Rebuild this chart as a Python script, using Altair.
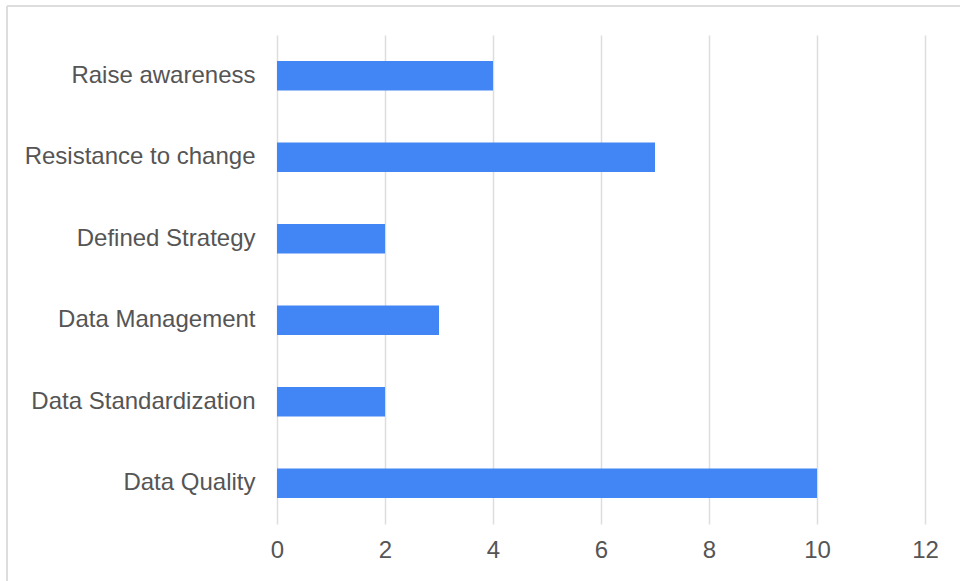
import altair as alt
import pandas as pd

categories = ["Raise awareness", "Resistance to change", "Defined Strategy",
              "Data Management", "Data Standardization", "Data Quality"]
values = [4, 7, 2, 3, 2, 10]
x_ticks = [0, 2, 4, 6, 8, 10, 12]

df = pd.DataFrame({"category": categories, "value": values})

FONT = "Liberation Sans"

bars = alt.Chart(df).mark_bar(color="#4285F4").encode(
    x=alt.X("value:Q", scale=alt.Scale(domain=[0, 12], nice=False),
            axis=alt.Axis(values=x_ticks, title=None, grid=True, gridColor="#dddddd",
                          gridWidth=1.5, domain=False, ticks=False, labelFontSize=24,
                          labelColor="#555555", labelFont=FONT, labelPadding=14,
                          labelFlush=False, labelOverlap=False)),
    y=alt.Y("category:N", sort=categories,
            scale=alt.Scale(paddingInner=0.64, paddingOuter=0.32),
            axis=alt.Axis(title=None, domain=False, ticks=False, grid=False,
                          labelFontSize=24, labelColor="#555555", labelFont=FONT,
                          labelPadding=22, labelLimit=400)),
)

frame_top = alt.Chart(df).mark_rule(color="#dddddd", strokeWidth=2).encode(
    x=alt.value(-270), x2=alt.value(720), y=alt.value(-29))
frame_left = alt.Chart(df).mark_rule(color="#dddddd", strokeWidth=2).encode(
    x=alt.value(-270), y=alt.value(-29), y2=alt.value(560))

chart = alt.layer(frame_top, frame_left, bars).properties(
    width=648, height=489,
    autosize=alt.AutoSizeParams(type="none"),
    padding={"left": 277, "top": 35, "right": 35, "bottom": 57},
    background="white",
).configure_view(stroke=None)

chart.save("out.html", embed_options={"renderer": "svg", "actions": False})
